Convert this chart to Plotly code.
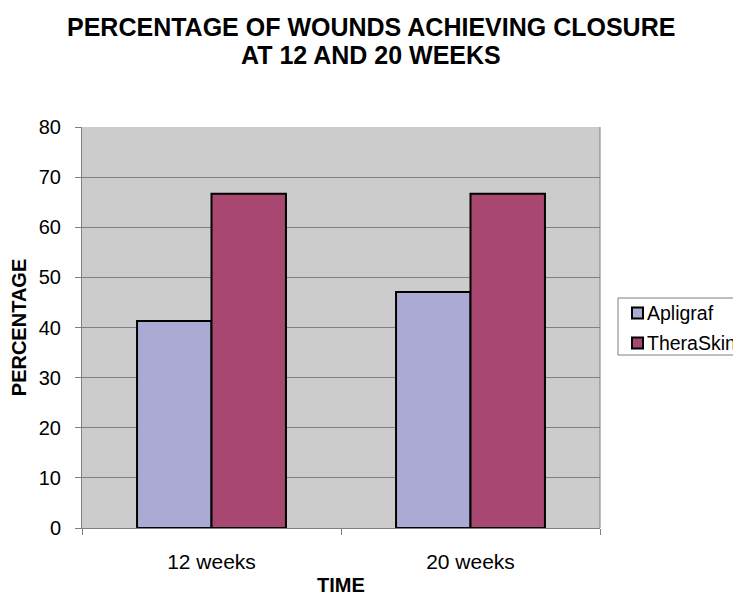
import plotly.graph_objects as go

categories = ["12 weeks", "20 weeks"]
series_names = ["Apligraf", "TheraSkin"]
apligraf = [41.3, 47.1]
theraskin = [66.7, 66.7]
y_ticks = [0, 10, 20, 30, 40, 50, 60, 70, 80]
title_lines = ["PERCENTAGE OF WOUNDS ACHIEVING CLOSURE", "AT 12 AND 20 WEEKS"]
colors = ["#AAAAD4", "#A8476F"]

FONT = "Liberation Sans, Arial, sans-serif"

# The page body has an 8px margin, so the figure starts at (8, 8) in the window.
OFF = 8
PAGE_W, PAGE_H = 741, 596
W, H = PAGE_W - OFF, PAGE_H - OFF
# plot-area geometry in window pixels
L, R, T, B = 82, 600, 127, 528


def px(x):
    return (x - L) / (R - L)


def py(y):
    return (B - y) / (B - T)


fig = go.Figure()
for name, vals, col in zip(series_names, [apligraf, theraskin], colors):
    fig.add_trace(go.Bar(name=name, x=categories, y=vals, showlegend=False,
                         marker=dict(color=col, line=dict(color="#000000", width=2))))

fig.update_layout(
    width=W, height=H,
    margin=dict(l=L - OFF, r=PAGE_W - R, t=T - OFF, b=PAGE_H - B, autoexpand=False),
    paper_bgcolor="white",
    plot_bgcolor="#CCCCCC",
    barmode="group",
    bargap=0.425,
    bargroupgap=0,
    font=dict(family=FONT, color="black", size=20),
    xaxis=dict(showgrid=False, showline=True, linecolor="#808080", linewidth=1,
               ticks="outside", ticklen=6, tickcolor="#808080",
               tickson="boundaries", automargin=False,
               tickfont=dict(size=21), ticklabelstandoff=15),
    yaxis=dict(range=[0, 80], tickvals=y_ticks, showgrid=True, gridcolor="#808080",
               gridwidth=1, showline=True, linecolor="#808080", linewidth=1,
               ticks="outside", ticklen=6, tickcolor="#808080", zeroline=False,
               automargin=False,
               tickfont=dict(size=20), ticklabelstandoff=10,
               title=dict(text="<b>PERCENTAGE</b>", font=dict(size=20), standoff=6)),
)

# title (two centred lines)
for line, ypix in zip(title_lines, [27, 55]):
    fig.add_annotation(text="<b>" + line + "</b>", xref="paper", yref="paper",
                       x=px(371), xanchor="center", y=py(ypix), yanchor="middle",
                       showarrow=False, font=dict(size=25, family=FONT))

# x-axis title
fig.add_annotation(text="<b>TIME</b>", xref="paper", yref="paper",
                   x=0.5, xanchor="center", y=py(585), yanchor="middle",
                   showarrow=False, font=dict(size=20, family=FONT))

# right border of plot area
fig.add_shape(type="line", xref="paper", yref="paper", x0=1, x1=1, y0=0, y1=1,
              line=dict(color="#808080", width=1))

# legend box (runs off the right edge, like the reference)
fig.add_shape(type="rect", xref="paper", yref="paper",
              x0=px(618), x1=px(760), y0=py(298), y1=py(355),
              line=dict(color="#808080", width=1), fillcolor="white")
for i, (name, col) in enumerate(zip(series_names, colors)):
    cy = 313 + 30 * i
    fig.add_shape(type="rect", xref="paper", yref="paper",
                  x0=px(632), x1=px(643), y0=py(cy - 5.5), y1=py(cy + 5.5),
                  line=dict(color="#000000", width=2), fillcolor=col)
    fig.add_annotation(text=name, xref="paper", yref="paper",
                       x=px(645), xanchor="left", y=py(cy), yanchor="middle",
                       showarrow=False, font=dict(size=19.5, family=FONT))

fig.write_html("out.html")
